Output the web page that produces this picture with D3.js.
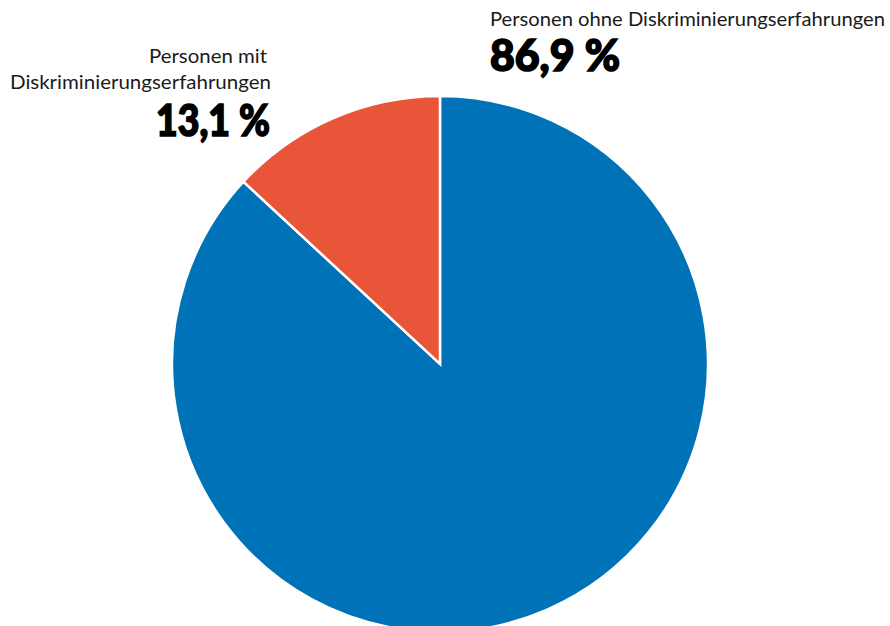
<!DOCTYPE html>
<html><head><meta charset="utf-8">
<script src="https://cdn.jsdelivr.net/npm/d3@7"></script>
<style>body{margin:0;background:#fff}svg{display:block}</style>
</head><body>
<svg id="c" width="890" height="626"></svg>
<script>
const categories = ["Personen ohne Diskriminierungserfahrungen", "Personen mit Diskriminierungserfahrungen"];
const values = [86.9, 13.1];
const valueLabels = ["86,9 %", "13,1 %"];
const colors = ["#0072b7", "#e85538"];

const svg = d3.select("#c");
const cx = 440, cy = 364, r = 268;
const pie = d3.pie().sort(null).value(d => d)(values);
const arc = d3.arc().innerRadius(0).outerRadius(r);
const g = svg.append("g").attr("transform", `translate(${cx},${cy})`);
g.selectAll("path").data(pie).join("path")
  .attr("d", arc)
  .attr("fill", (d, i) => colors[i])
  .attr("stroke", "#fff").attr("stroke-width", 2.5).attr("stroke-linejoin", "miter");

const labFont = "Lato, 'Noto Sans', sans-serif";
const numFont = "Lato, Roboto, sans-serif";

function num(x, y, anchor, len, t) {
  svg.append("text").attr("x", x).attr("y", y).attr("font-family", numFont).attr("font-size", 43)
    .attr("font-weight", 900).attr("fill", "#000").attr("stroke", "#000").attr("stroke-width", 1.6)
    .attr("text-anchor", anchor).attr("textLength", len).attr("lengthAdjust", "spacingAndGlyphs")
    .text(t);
}
function lab(x, y, anchor, len, t) {
  svg.append("text").attr("x", x).attr("y", y).attr("font-family", labFont).attr("font-size", 19)
    .attr("fill", "#1a1a1a").attr("text-anchor", anchor).attr("textLength", len).attr("lengthAdjust", "spacingAndGlyphs")
    .text(t);
}

// right label (ohne)
lab(490, 26, "start", 395, categories[0]);
num(490, 71, "start", 130, valueLabels[0]);

// left label (mit)
const parts = ["Personen mit", "Diskriminierungserfahrungen"];
lab(267, 63, "end", 118, parts[0]);
lab(271, 89, "end", 261, parts[1]);
num(270, 136, "end", 114, valueLabels[1]);
</script>
</body></html>
